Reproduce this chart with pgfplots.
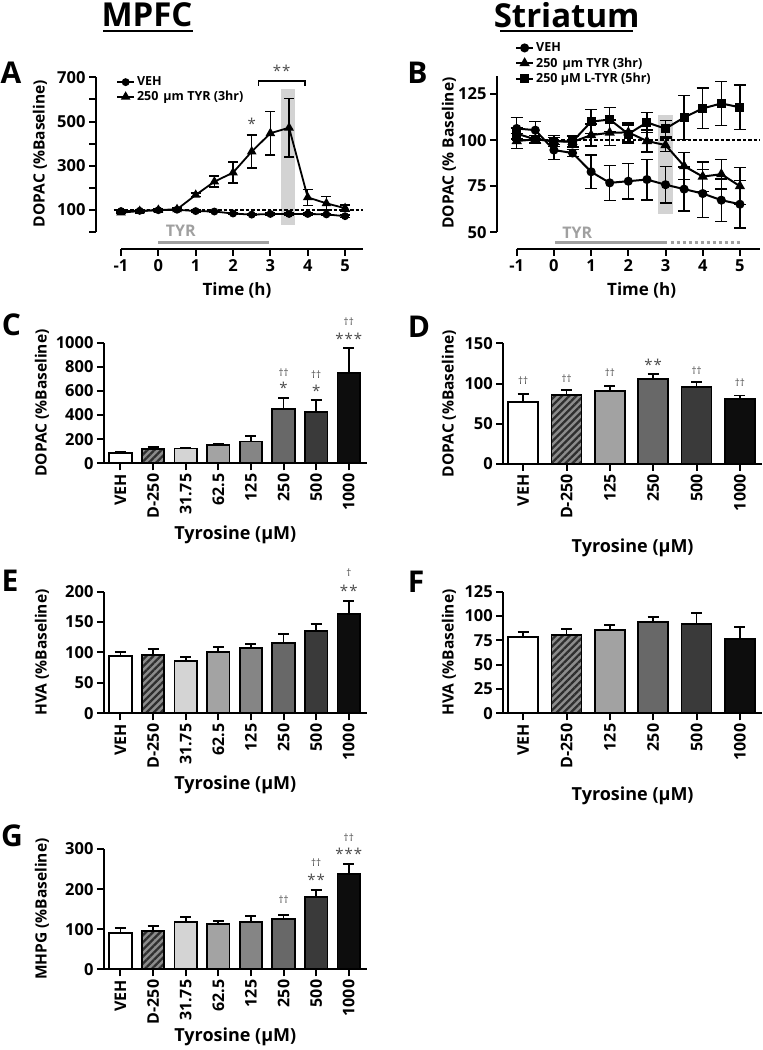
\documentclass[border=0pt]{standalone}
\usepackage{fontspec}
\setmainfont{Open Sans}
\usepackage{pgfplots}
\pgfplotsset{compat=1.18}
\usetikzlibrary{patterns.meta}

\definecolor{annot}{HTML}{4A4A4A}
\definecolor{tyrgray}{HTML}{A0A0A0}
\definecolor{shade}{HTML}{D3D3D3}
\definecolor{hatchbg}{HTML}{8C8C8C}
\definecolor{hatchfg}{HTML}{2E2E2E}
\definecolor{c31}{HTML}{D4D4D4}
\definecolor{c62}{HTML}{A3A3A3}
\definecolor{c125}{HTML}{858585}
\definecolor{c250}{HTML}{686868}
\definecolor{c500}{HTML}{3A3A3A}
\definecolor{c1000}{HTML}{0D0D0D}
\definecolor{d125}{HTML}{A2A2A2}

\newcommand{\fs}[1]{\fontsize{#1}{#1}\selectfont\bfseries}

\tikzset{hatch/.style={fill=hatchbg, postaction={pattern color=hatchfg, pattern={Lines[angle=45,distance=5pt,line width=2.3pt]}, draw=black, line width=1.8pt}}}

\pgfplotsset{
  gp/.style={
    scale only axis, clip=false,
    axis x line=bottom, axis y line=left,
    x axis line style={-, line width=2.2pt},
    y axis line style={-, line width=2.2pt},
    tick align=outside, major tick length=7pt,
    tick style={line width=2pt, black},
    minor tick num=0,
    tick label style={font=\fs{16.5}},
    /pgf/number format/assume math mode=true,
    /pgf/number format/1000 sep={},
    xlabel style={font=\fs{18}},
    ylabel style={font=\fs{15.5}},
  },
  bars/.style={gp, ymin=0, xticklabel style={rotate=90, anchor=east, font=\fs{16}}},
  lineerr/.style={error bars/.cd, y dir=both, y explicit,
    error bar style={line width=1.5pt, black},
    error mark options={rotate=90, mark size=#1, line width=1.5pt, black}},
}

\newcommand{\mybar}[4]{\addplot[ybar, bar width=\bw, bar shift=0pt, draw=black, line width=1.8pt, #4,
   error bars/.cd, y dir=plus, y explicit,
   error bar style={line width=1.8pt, black},
   error mark options={rotate=90, mark size=5.5pt, line width=1.8pt, black}]
   coordinates {(#1,#2) +- (0,#3)};}
\newcommand{\stars}[3]{\node[anchor=base, yshift=-8pt, text=annot, font=\fontsize{15}{15}\selectfont, inner sep=0pt] at (axis cs:#1,#2) {#3};}
\newcommand{\dags}[3]{\node[anchor=base, yshift=-3pt, text=annot, font=\fontsize{10}{10}\selectfont, inner sep=0pt] at (axis cs:#1,#2) {#3};}

\begin{document}
\begin{tikzpicture}
\useasboundingbox (0pt,0pt) rectangle (763pt,1050pt);
% titles
\node[font=\fs{33}] at (147pt,1035pt) {MPFC};
\draw[line width=2.5pt] (103pt,1019pt) -- (193pt,1019pt);
\node[font=\fs{33}] at (566.7pt,1035pt) {Striatum};
\draw[line width=2.5pt] (500pt,1019pt) -- (633pt,1019pt);
% panel letters
\node[font=\fs{30}] at (11pt,977.5pt) {A};
\node[font=\fs{30}] at (417.5pt,977.5pt) {B};
\node[font=\fs{30}] at (11.5pt,725pt) {C};
\node[font=\fs{30}] at (419pt,723.3pt) {D};
\node[font=\fs{30}] at (10pt,469.2pt) {E};
\node[font=\fs{30}] at (416pt,468pt) {F};
\node[font=\fs{30}] at (12pt,214.2pt) {G};

% ---------------- Panel A ----------------
\begin{axis}[gp, at={(96pt,801pt)}, anchor=south west, width=267pt, height=171.7pt,
  xmin=-1.67, xmax=5.48, ymin=-76.4, ymax=700,
  x axis line style={shorten <=25pt},
  y axis line style={shorten <=16.9pt},
  xtick={-1,...,5}, xticklabels={-1,0,1,2,3,4,5},
  ytick={0,100,...,700}, yticklabels={,100,,300,,500,,700},
  xlabel={Time (h)}, ylabel={DOPAC (\%Baseline)},
  xlabel style={at={(axis description cs:0.528,-0.239)}, anchor=center, font=\fs{17}},
  ylabel style={at={(axis description cs:-0.21,0.556)}, anchor=center},
  legend style={at={(axis description cs:0.075,1.015)}, anchor=north west, draw=none, fill=none,
    font=\fs{12.5}, inner sep=0pt, row sep=0pt, legend cell align=left},
]
\addplot[fill=shade, draw=none, forget plot] coordinates {(3.28,32) (3.66,32) (3.66,646) (3.28,646)} -- cycle;
\addplot[black, line width=1.5pt, dash pattern=on 3.5pt off 2pt, forget plot] coordinates {(-1.2,100) (5.48,100)};
\addplot[tyrgray, line width=3pt, forget plot] coordinates {(0,-46) (2.95,-46)};
\addplot[black, line width=1.5pt, forget plot] coordinates {(2.68,661) (2.68,684) (3.93,684) (3.93,661)};
\addplot[black, line width=1.8pt, mark=*, mark size=3pt, lineerr=5pt] coordinates {
 (-1,95) +- (0,4) (-0.5,96) +- (0,4) (0,99) +- (0,4) (0.5,101) +- (0,4) (1,95) +- (0,4)
 (1.5,93) +- (0,4) (2,84) +- (0,4) (2.5,79) +- (0,4) (3,82) +- (0,4) (3.5,82) +- (0,4)
 (4,82) +- (0,4) (4.5,80) +- (0,4) (5,72) +- (0,5)};
\addlegendentry{VEH}
\addplot[black, line width=1.8pt, mark=triangle*, mark size=3.8pt, lineerr=5pt] coordinates {
 (-1,88) +- (0,5) (-0.5,95) +- (0,5) (0,100) +- (0,5) (0.5,103) +- (0,5) (1,168) +- (0,8)
 (1.5,228) +- (0,25) (2,269) +- (0,48) (2.5,364) +- (0,75) (3,447) +- (0,98) (3.5,472) +- (0,133)
 (4,157) +- (0,36) (4.5,130) +- (0,30) (5,108) +- (0,14)};
\addlegendentry{250\hspace{5pt}µm TYR (3hr)}
\stars{2.5}{500}{*}
\stars{3.3}{741}{*\kern1pt*}
\node[font=\fs{16}, text=tyrgray] at (axis cs:0.6,6) {TYR};
\end{axis}

% ---------------- Panel B ----------------
\begin{axis}[gp, at={(497pt,801pt)}, anchor=south west, width=263pt, height=173pt,
  xmin=-1.53, xmax=5.54, ymin=40.9, ymax=134.8,
  x axis line style={shorten <=19.7pt},
  y axis line style={shorten <=16.7pt},
  xtick={-1,...,5}, xticklabels={-1,0,1,2,3,4,5},
  ytick={50,75,100,125},
  xlabel={Time (h)}, ylabel={DOPAC (\% Baseline)},
  xlabel style={at={(axis description cs:0.55,-0.237)}, anchor=center, font=\fs{17}},
  ylabel style={at={(axis description cs:-0.183,0.555)}, anchor=center},
  legend style={at={(axis description cs:0.068,1.205)}, anchor=north west, draw=none, fill=none,
    font=\fs{12.5}, inner sep=0pt, row sep=0.5pt, legend cell align=left},
]
\addplot[fill=shade, draw=none, forget plot] coordinates {(2.8,60) (3.2,60) (3.2,113.5) (2.8,113.5)} -- cycle;
\addplot[black, line width=1.5pt, dash pattern=on 3.5pt off 2pt, forget plot] coordinates {(-1.13,100) (5.54,100)};
\addplot[tyrgray, line width=3pt, forget plot] coordinates {(0.03,44.4) (3.05,44.4)};
\addplot[tyrgray, line width=3pt, dash pattern=on 3pt off 3pt, forget plot] coordinates {(3.14,44.4) (5.0,44.4)};
\addplot[black, line width=2pt, mark=*, mark size=3.5pt, lineerr=6pt] coordinates {
 (-1,106.3) +- (0,6) (-0.5,105.4) +- (0,4.6) (0,94.6) +- (0,5) (0.5,93) +- (0,2) (1,82.8) +- (0,9)
 (1.5,76.8) +- (0,9.5) (2,77.7) +- (0,9.7) (2.5,78.6) +- (0,11) (3,75.8) +- (0,10) (3.5,73.4) +- (0,12)
 (4,71) +- (0,13) (4.5,67.4) +- (0,11.5) (5,65.2) +- (0,13)};
\addlegendentry{VEH}
\addplot[black, line width=2pt, mark=triangle*, mark size=4pt, lineerr=6pt] coordinates {
 (-1,99.5) +- (0,4) (-0.5,100.4) +- (0,2) (0,99.5) +- (0,2) (0.5,99) +- (0,3) (1,102.7) +- (0,6)
 (1.5,104) +- (0,7) (2,104.2) +- (0,5) (2.5,99.5) +- (0,6) (3,97.3) +- (0,3.5) (3.5,85.9) +- (0,7.4)
 (4,80.2) +- (0,8) (4.5,81.5) +- (0,8) (5,75) +- (0,10)};
\addlegendentry{250\hspace{5pt}µm TYR (3hr)}
\addplot[black, line width=2pt, mark=square*, mark size=3.5pt, lineerr=6pt] coordinates {
 (-1,103.5) +- (0,3) (-0.5,100.4) +- (0,2) (0,99.5) +- (0,3) (0.5,99.2) +- (0,3) (1,110) +- (0,6.5)
 (1.5,111.2) +- (0,6.5) (2,103.3) +- (0,5) (2.5,109.6) +- (0,5.5) (3,106.2) +- (0,4.5) (3.5,112.3) +- (0,12)
 (4,117.2) +- (0,11) (4.5,119.9) +- (0,12) (5,117.8) +- (0,12)};
\addlegendentry{250 µM L-TYR (5hr)}
\node[font=\fs{16}, text=tyrgray] at (axis cs:0.63,49.5) {TYR};
\end{axis}

% ---------------- Panel C ----------------
\def\bw{22.5pt}
\begin{axis}[bars, at={(104pt,586.7pt)}, anchor=south west, width=262.7pt, height=120.6pt,
  xmin=-0.506, xmax=7.55, ymax=1000, ytick={0,200,...,1000},
  xtick={0,...,7}, xticklabels={VEH,D-250,31.75,62.5,125,250,500,1000},
  xlabel={Tyrosine (µM)}, ylabel={DOPAC (\%Baseline)},
  xlabel style={at={(axis description cs:0.5,-0.595)}, anchor=center},
  ylabel style={at={(axis description cs:-0.236,0.5)}, anchor=center},
]
\mybar{0}{83}{8}{fill=white}
\mybar{1}{119}{14}{hatch}
\mybar{2}{122}{8}{fill=c31}
\mybar{3}{149}{8}{fill=c62}
\mybar{4}{180}{49}{fill=c125}
\mybar{5}{447}{97}{fill=c250}
\mybar{6}{428}{97}{fill=c500}
\mybar{7}{746}{207}{fill=c1000}
\dags{5}{746}{††}\stars{5}{649}{*}
\dags{6}{732}{††}\stars{6}{622}{*}
\dags{7}{1166}{††}\stars{7}{1055}{*\kern1pt*\kern1pt*}
\end{axis}

% ---------------- Panel D ----------------
\def\bw{30pt}
\begin{axis}[bars, at={(503.3pt,586pt)}, anchor=south west, width=258.7pt, height=120.7pt,
  xmin=-0.46, xmax=5.51, ymax=150, ytick={0,50,100,150},
  xtick={0,...,5}, xticklabels={VEH,D-250,125,250,500,1000},
  xlabel={Tyrosine (µM)}, ylabel={DOPAC (\%Baseline)},
  xlabel style={at={(axis description cs:0.5,-0.696)}, anchor=center},
  ylabel style={at={(axis description cs:-0.21,0.5)}, anchor=center},
]
\mybar{0}{76.7}{10.4}{fill=white}
\mybar{1}{85.8}{5.8}{hatch}
\mybar{2}{91.2}{5.4}{fill=d125}
\mybar{3}{105.7}{5.8}{fill=c250}
\mybar{4}{95.3}{6.2}{fill=c500}
\mybar{5}{81.2}{3.8}{fill=c1000}
\dags{0}{102.4}{††}
\dags{1}{105.3}{††}
\dags{2}{112}{††}
\stars{3}{126}{*\kern1pt*}
\dags{4}{114.8}{††}
\dags{5}{100.3}{††}
\end{axis}

% ---------------- Panel E ----------------
\def\bw{22.5pt}
\begin{axis}[bars, at={(104pt,336.7pt)}, anchor=south west, width=262.7pt, height=121.6pt,
  xmin=-0.506, xmax=7.55, ymax=200, ytick={0,50,...,200},
  xtick={0,...,7}, xticklabels={VEH,D-250,31.75,62.5,125,250,500,1000},
  xlabel={Tyrosine (µM)}, ylabel={HVA (\%Baseline)},
  xlabel style={at={(axis description cs:0.5,-0.59)}, anchor=center},
  ylabel style={at={(axis description cs:-0.236,0.5)}, anchor=center},
]
\mybar{0}{94.2}{7}{fill=white}
\mybar{1}{96.4}{9.4}{hatch}
\mybar{2}{85.5}{6.5}{fill=c31}
\mybar{3}{100.8}{7.7}{fill=c62}
\mybar{4}{107.4}{6}{fill=c125}
\mybar{5}{116.2}{14.2}{fill=c250}
\mybar{6}{135.9}{11.5}{fill=c500}
\mybar{7}{163.3}{21.4}{fill=c1000}
\dags{7}{230}{†}\stars{7}{205}{*\kern1pt*}
\end{axis}

% ---------------- Panel F ----------------
\def\bw{30pt}
\begin{axis}[bars, at={(503.3pt,336.7pt)}, anchor=south west, width=258.7pt, height=121.6pt,
  xmin=-0.46, xmax=5.51, ymax=125, ytick={0,25,...,125},
  xtick={0,...,5}, xticklabels={VEH,D-250,125,250,500,1000},
  xlabel={Tyrosine (µM)}, ylabel={HVA (\%Baseline)},
  xlabel style={at={(axis description cs:0.5,-0.68)}, anchor=center},
  ylabel style={at={(axis description cs:-0.21,0.5)}, anchor=center},
]
\mybar{0}{78.4}{5.1}{fill=white}
\mybar{1}{80.1}{6.5}{hatch}
\mybar{2}{85.3}{5.5}{fill=d125}
\mybar{3}{94.2}{4.8}{fill=c250}
\mybar{4}{91.8}{11.3}{fill=c500}
\mybar{5}{76}{12.3}{fill=c1000}
\end{axis}

% ---------------- Panel G ----------------
\def\bw{22.5pt}
\begin{axis}[bars, at={(104pt,80.7pt)}, anchor=south west, width=262.7pt, height=120.3pt,
  xmin=-0.506, xmax=7.55, ymax=300, ytick={0,100,200,300},
  xtick={0,...,7}, xticklabels={VEH,D-250,31.75,62.5,125,250,500,1000},
  xlabel={Tyrosine (µM)}, ylabel={MHPG (\%Baseline)},
  xlabel style={at={(axis description cs:0.5,-0.563)}, anchor=center},
  ylabel style={at={(axis description cs:-0.236,0.5)}, anchor=center},
]
\mybar{0}{91.4}{10.8}{fill=white}
\mybar{1}{95.6}{11.6}{hatch}
\mybar{2}{118}{11.6}{fill=c31}
\mybar{3}{113}{7.5}{fill=c62}
\mybar{4}{118}{14.1}{fill=c125}
\mybar{5}{126.4}{10}{fill=c250}
\mybar{6}{180.4}{16.6}{fill=c500}
\mybar{7}{236.9}{25.8}{fill=c1000}
\dags{5}{171}{††}
\dags{6}{264}{††}\stars{6}{228.6}{*\kern1pt*}
\dags{7}{326.7}{††}\stars{7}{293.4}{*\kern1pt*\kern1pt*}
\end{axis}
\end{tikzpicture}
\end{document}
